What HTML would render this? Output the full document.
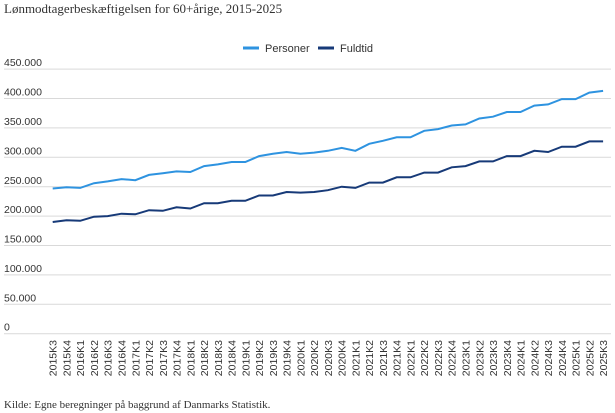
<!DOCTYPE html>
<html><head><meta charset="utf-8"><style>
body{margin:0;background:#fff;width:615px;height:413px;overflow:hidden}
svg{display:block}
</style></head><body>
<svg id="s" width="615" height="413" xmlns="http://www.w3.org/2000/svg" font-family="Liberation Sans, Arial, sans-serif">
<text x="4" y="13" font-family="Liberation Serif, serif" font-size="13" fill="#333">Lønmodtagerbeskæftigelsen for 60+årige, 2015-2025</text>
<line x1="243" y1="48" x2="259" y2="48" stroke="#2e93e0" stroke-width="3"/>
<text x="265" y="52" font-size="11" fill="#333">Personer</text>
<line x1="318" y1="48" x2="334" y2="48" stroke="#173a78" stroke-width="3"/>
<text x="340" y="52" font-size="11" fill="#333">Fuldtid</text>
<g stroke="#d9d9d9" stroke-width="1">
<line x1="4" x2="611" y1="69.1" y2="69.1"/><line x1="4" x2="611" y1="98.5" y2="98.5"/>
<line x1="4" x2="611" y1="127.9" y2="127.9"/><line x1="4" x2="611" y1="157.3" y2="157.3"/>
<line x1="4" x2="611" y1="186.7" y2="186.7"/><line x1="4" x2="611" y1="216.1" y2="216.1"/>
<line x1="4" x2="611" y1="245.5" y2="245.5"/><line x1="4" x2="611" y1="274.9" y2="274.9"/>
<line x1="4" x2="611" y1="304.3" y2="304.3"/><line x1="4" x2="611" y1="333.7" y2="333.7"/>
</g>
<g font-size="10.5" fill="#333">
<text x="4" y="66">450.000</text><text x="4" y="95.5">400.000</text><text x="4" y="125">350.000</text>
<text x="4" y="154.5">300.000</text><text x="4" y="184">250.000</text><text x="4" y="213">200.000</text>
<text x="4" y="242.5">150.000</text><text x="4" y="272">100.000</text><text x="4" y="301.5">50.000</text>
<text x="4" y="330.5">0</text>
</g>
<polyline id="p1" fill="none" stroke="#2e93e0" stroke-width="2"/>
<polyline id="p2" fill="none" stroke="#173a78" stroke-width="2"/>
<g id="lab" font-size="10.5" fill="#333">
<text>2015K3</text><text>2015K4</text><text>2016K1</text><text>2016K2</text><text>2016K3</text><text>2016K4</text><text>2017K1</text><text>2017K2</text><text>2017K3</text><text>2017K4</text><text>2018K1</text><text>2018K2</text><text>2018K3</text><text>2018K4</text><text>2019K1</text><text>2019K2</text><text>2019K3</text><text>2019K4</text><text>2020K1</text><text>2020K2</text><text>2020K3</text><text>2020K4</text><text>2021K1</text><text>2021K2</text><text>2021K3</text><text>2021K4</text><text>2022K1</text><text>2022K2</text><text>2022K3</text><text>2022K4</text><text>2023K1</text><text>2023K2</text><text>2023K3</text><text>2023K4</text><text>2024K1</text><text>2024K2</text><text>2024K3</text><text>2024K4</text><text>2025K1</text><text>2025K2</text><text>2025K3</text>
</g>
<text x="4" y="408" font-family="Liberation Serif, serif" font-size="11" fill="#333">Kilde: Egne beregninger på baggrund af Danmarks Statistik.</text>
</svg>
<script>
var P=[247,249,248,256,259,263,261,270,273,276,275,285,288,292,292,302,306,309,306,308,311,316,311,323,328,334,334,345,348,354,356,366,369,377,377,388,390,399,399,410,413];
var F=[190,193,192,199,200,204,203,210,209,215,213,222,222,226,226,235,235,241,240,241,244,250,248,257,257,266,266,274,274,283,285,293,293,302,302,311,309,318,318,327,327];
function X(i){return 52.7+i*13.76}
function Y(v){return 333.7-v*29.4/50}
document.getElementById('p1').setAttribute('points',P.map(function(v,i){return X(i).toFixed(1)+','+Y(v).toFixed(1)}).join(' '));
document.getElementById('p2').setAttribute('points',F.map(function(v,i){return X(i).toFixed(1)+','+Y(v).toFixed(1)}).join(' '));
var t=document.getElementById('lab').getElementsByTagName('text');
for(var i=0;i<t.length;i++){var x=X(i)+4,y=340;t[i].setAttribute('x',x);t[i].setAttribute('y',y);t[i].setAttribute('text-anchor','end');t[i].setAttribute('transform','rotate(-90 '+x+' '+y+')');}
</script>
</body></html>
